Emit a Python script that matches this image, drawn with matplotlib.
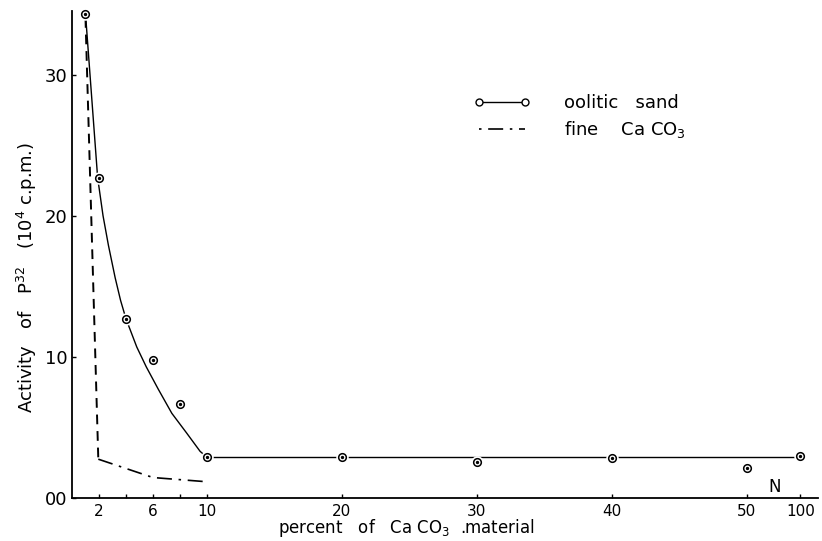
import matplotlib.pyplot as plt
import numpy as np
from matplotlib.lines import Line2D

# measured points, oolitic sand (percent CaCO3 -> activity, 10^4 c.p.m.)
sand_x = [1, 2, 4, 6, 8, 10, 20, 30, 40, 50, 100]
sand_y = [34.3, 22.7, 12.7, 9.8, 6.65, 2.93, 2.9, 2.55, 2.85, 2.1, 3.0]

# hand drawn fit through the sand points
curve_x = [1.0, 1.9, 2.3, 2.7, 3.2, 3.6, 4.0, 4.8, 5.5, 6.4, 7.4, 8.5, 9.5, 10.0]
curve_y = [34.3, 22.7, 20.0, 17.9, 15.6, 14.0, 12.7, 10.7, 9.3, 7.7, 6.0, 4.6, 3.3, 2.9]
plateau_x = [10, 100]
plateau_y = [2.88, 2.88]

# fine CaCO3
fine_x = [1.0, 1.95, 6.0, 10.0]
fine_y = [34.0, 2.75, 1.45, 1.15]

xticks = [2, 6, 10, 20, 30, 40, 50, 100]
yticks = [0, 10, 20, 30]
ytick_labels = ['00', '10', '20', '30']


def xpos(v):
    # axis is broken after 50, 100 sits just past it
    v = np.asarray(v, dtype=float)
    return np.where(v > 50, 50 + (v - 50) * 0.08, v)


fig = plt.figure(figsize=(8.22, 5.41), dpi=100)
ax = fig.add_axes([72/822, 43/541, 746/822, 487/541])

ax.plot(xpos(curve_x), curve_y, color='k', lw=1.0, zorder=2)
ax.plot(xpos(plateau_x), plateau_y, color='k', lw=1.0, zorder=2)

# fine CaCO3: long dashes down the steep part, dash-dot afterwards
ax.plot(xpos(fine_x[:2]), fine_y[:2], color='k', lw=1.4, dashes=(5, 3.5), zorder=2)
ax.plot(xpos(fine_x[1:]), fine_y[1:], color='k', lw=1.2,
        dashes=(9, 4, 1.5, 4), zorder=2)

sx = xpos(sand_x)
ax.plot(sx, sand_y, ls='none', marker='o', ms=9, mfc='white', mec='none',
        zorder=3, clip_on=False)
ax.plot(sx, sand_y, ls='none', marker='o', ms=5.5, mfc='white', mec='k',
        mew=1.1, zorder=4, clip_on=False)
ax.plot(sx, sand_y, ls='none', marker='o', ms=1.4, mfc='k', mec='k',
        zorder=5, clip_on=False)

ax.set_xlim(0, 55.3)
ax.set_ylim(0, 34.5)

ax.set_xticks(xpos(xticks))
ax.set_xticklabels([str(t) for t in xticks], fontsize=11)
ax.set_xticks([4, 8], minor=True)
ax.set_yticks(yticks)
ax.set_yticklabels(ytick_labels, fontsize=13)
ax.tick_params(axis='both', which='both', direction='in', length=3,
               width=1, color='k')
ax.tick_params(axis='x', pad=4)
ax.tick_params(axis='y', pad=3)

for s in ['top', 'right']:
    ax.spines[s].set_visible(False)
for s in ['left', 'bottom']:
    ax.spines[s].set_linewidth(1.3)

ax.text(52.1, 0.15, 'N', fontsize=12, ha='center', va='bottom')

fig.text(406/822, 1 - 528/541, 'percent   of   Ca CO$_3$  .material',
         fontsize=12, ha='center', va='center')
fig.text(27/822, 1 - 278/541, 'Activity   of   P$^{32}$   (10$^4$ c.p.m.)',
         fontsize=13, ha='center', va='center', rotation=90)

handles = [
    Line2D([], [], color='k', lw=1.0, marker='o', ms=5, mfc='white',
           mec='k', mew=1.0),
    Line2D([], [], color='k', lw=1.2, dashes=(1.5, 4, 9, 4)),
]
ax.legend(handles, ['oolitic   sand', 'fine    Ca CO$_3$'], loc='upper left',
          bbox_to_anchor=(474/822, 1 - 94/541), bbox_transform=fig.transFigure,
          frameon=False, numpoints=2, handlelength=3.1, handletextpad=1.9,
          labelspacing=0.4, borderpad=0, borderaxespad=0, fontsize=13)

plt.savefig('out.png', dpi=100)
